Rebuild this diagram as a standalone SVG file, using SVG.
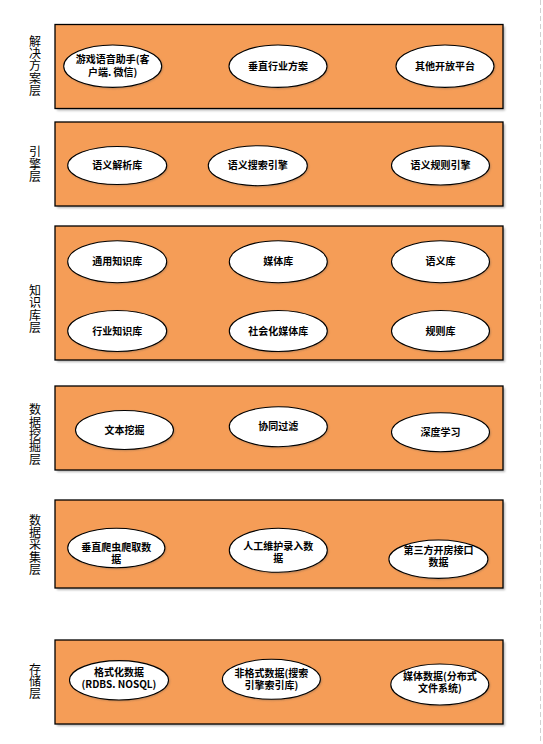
<svg xmlns="http://www.w3.org/2000/svg" width="543" height="744" viewBox="0 0 543 744">
<style>
.layer{fill:#F59D57;stroke:#000;stroke-width:1.3}
.shadow{fill:#7a7a7a;opacity:0.55}
.node{fill:#fff;stroke:#000;stroke-width:1.1}
.nshadow{fill:#555;opacity:0.45}
.t{font-family:"Noto Sans CJK SC","Liberation Sans",sans-serif;font-size:10px;font-weight:bold;fill:#000;text-anchor:middle}
.lbl{font-family:"Noto Sans CJK SC","Liberation Sans",sans-serif;font-size:12px;font-weight:normal;fill:#000;text-anchor:middle;writing-mode:vertical-rl;letter-spacing:0.3px}
</style>
<defs>
<filter id="blur" x="-10%" y="-10%" width="120%" height="130%"><feGaussianBlur stdDeviation="0.8"/></filter>
</defs>
<rect width="543" height="744" fill="#fff"/>
<line x1="540.5" y1="0" x2="540.5" y2="744" stroke="#d0d0d0" stroke-width="1" stroke-dasharray="5,3"/>

<!-- Layer 1 -->
<g id="layer-solution">
<rect class="shadow" x="57" y="26.5" width="448" height="84" filter="url(#blur)"/>
<rect class="layer" x="55" y="24.5" width="448" height="84"/>
<text class="lbl" x="35" y="66">解决方案层</text>
</g>
<g id="n-game">
<ellipse class="nshadow" cx="113.7" cy="67.2" rx="49" ry="21.2" filter="url(#blur)"/>
<ellipse class="node" cx="112.7" cy="66.2" rx="49" ry="21.2"/>
<text class="t"><tspan x="112.7" y="63.3">游戏语音助手(客</tspan><tspan x="112.7" y="75.5">户端. 微信)</tspan></text>
</g>
<g id="n-vertical">
<ellipse class="nshadow" cx="279" cy="67.2" rx="49" ry="21.2" filter="url(#blur)"/>
<ellipse class="node" cx="278" cy="66.2" rx="49" ry="21.2"/>
<text class="t" x="278" y="69.6">垂直行业方案</text>
</g>
<g id="n-other">
<ellipse class="nshadow" cx="446" cy="67.2" rx="49" ry="21.2" filter="url(#blur)"/>
<ellipse class="node" cx="445" cy="66.2" rx="49" ry="21.2"/>
<text class="t" x="445" y="69.6">其他开放平台</text>
</g>

<!-- Layer 2 -->
<g id="layer-engine">
<rect class="shadow" x="57" y="124" width="448" height="84" filter="url(#blur)"/>
<rect class="layer" x="55" y="122" width="448" height="84"/>
<text class="lbl" x="35" y="164.2">引擎层</text>
</g>
<g id="n-parse">
<ellipse class="nshadow" cx="118.2" cy="166.5" rx="49.5" ry="19" filter="url(#blur)"/>
<ellipse class="node" cx="117.2" cy="165.5" rx="49.5" ry="19"/>
<text class="t" x="117.2" y="169">语义解析库</text>
</g>
<g id="n-search">
<ellipse class="nshadow" cx="258.8" cy="166.7" rx="49.5" ry="20" filter="url(#blur)"/>
<ellipse class="node" cx="257.8" cy="165.7" rx="49.5" ry="20"/>
<text class="t" x="257.8" y="169">语义搜索引擎</text>
</g>
<g id="n-rule-engine">
<ellipse class="nshadow" cx="441.5" cy="166.5" rx="49" ry="19.5" filter="url(#blur)"/>
<ellipse class="node" cx="440.5" cy="165.5" rx="49" ry="19.5"/>
<text class="t" x="440.5" y="169">语义规则引擎</text>
</g>

<!-- Layer 3 -->
<g id="layer-knowledge">
<rect class="shadow" x="57" y="228" width="448" height="134" filter="url(#blur)"/>
<rect class="layer" x="55" y="226" width="448" height="134"/>
<text class="lbl" x="35" y="309">知识库层</text>
</g>
<g id="n-general">
<ellipse class="nshadow" cx="118.2" cy="262.7" rx="49.5" ry="21" filter="url(#blur)"/>
<ellipse class="node" cx="117.2" cy="261.7" rx="49.5" ry="21"/>
<text class="t" x="117.2" y="265.2">通用知识库</text>
</g>
<g id="n-media">
<ellipse class="nshadow" cx="279.3" cy="262.7" rx="49" ry="21" filter="url(#blur)"/>
<ellipse class="node" cx="278.3" cy="261.7" rx="49" ry="21"/>
<text class="t" x="278.3" y="265.2">媒体库</text>
</g>
<g id="n-semantic">
<ellipse class="nshadow" cx="441.5" cy="262.7" rx="49" ry="21" filter="url(#blur)"/>
<ellipse class="node" cx="440.5" cy="261.7" rx="49" ry="21"/>
<text class="t" x="440.5" y="265.2">语义库</text>
</g>
<g id="n-industry">
<ellipse class="nshadow" cx="118.2" cy="332" rx="49.5" ry="20.5" filter="url(#blur)"/>
<ellipse class="node" cx="117.2" cy="331" rx="49.5" ry="20.5"/>
<text class="t" x="117.2" y="334.5">行业知识库</text>
</g>
<g id="n-social">
<ellipse class="nshadow" cx="279.3" cy="332" rx="49" ry="20.5" filter="url(#blur)"/>
<ellipse class="node" cx="278.3" cy="331" rx="49" ry="20.5"/>
<text class="t" x="278.3" y="334.5">社会化媒体库</text>
</g>
<g id="n-rules">
<ellipse class="nshadow" cx="441.5" cy="332" rx="49" ry="20.5" filter="url(#blur)"/>
<ellipse class="node" cx="440.5" cy="331" rx="49" ry="20.5"/>
<text class="t" x="440.5" y="334.5">规则库</text>
</g>

<!-- Layer 4 -->
<g id="layer-mining">
<rect class="shadow" x="57" y="388" width="448" height="84" filter="url(#blur)"/>
<rect class="layer" x="55" y="386" width="448" height="84"/>
<text class="lbl" x="35" y="434.5">数据挖掘层</text>
</g>
<g id="n-textmining">
<ellipse class="nshadow" cx="125.5" cy="431" rx="49" ry="19.5" filter="url(#blur)"/>
<ellipse class="node" cx="124.5" cy="430" rx="49" ry="19.5"/>
<text class="t" x="124.5" y="433.5">文本挖掘</text>
</g>
<g id="n-cf">
<ellipse class="nshadow" cx="279.3" cy="427.7" rx="49" ry="20" filter="url(#blur)"/>
<ellipse class="node" cx="278.3" cy="426.7" rx="49" ry="20"/>
<text class="t" x="278.3" y="430.2">协同过滤</text>
</g>
<g id="n-dl">
<ellipse class="nshadow" cx="441.5" cy="433.2" rx="49" ry="19.5" filter="url(#blur)"/>
<ellipse class="node" cx="440.5" cy="432.2" rx="49" ry="19.5"/>
<text class="t" x="440.5" y="435.7">深度学习</text>
</g>

<!-- Layer 5 -->
<g id="layer-collect">
<rect class="shadow" x="57" y="502" width="448" height="88" filter="url(#blur)"/>
<rect class="layer" x="55" y="500" width="448" height="88"/>
<text class="lbl" x="35" y="545">数据采集层</text>
</g>
<g id="n-crawler">
<ellipse class="nshadow" cx="117.3" cy="549" rx="48.6" ry="19.7" filter="url(#blur)"/>
<ellipse class="node" cx="116.3" cy="548" rx="48.6" ry="19.7"/>
<text class="t"><tspan x="116.3" y="551.3">垂直爬虫爬取数</tspan><tspan x="116.3" y="563.3">据</tspan></text>
</g>
<g id="n-manual">
<ellipse class="nshadow" cx="279.3" cy="551.3" rx="49" ry="22" filter="url(#blur)"/>
<ellipse class="node" cx="278.3" cy="550.3" rx="49" ry="22"/>
<text class="t"><tspan x="278.3" y="550">人工维护录入数</tspan><tspan x="278.3" y="562">据</tspan></text>
</g>
<g id="n-thirdparty">
<ellipse class="nshadow" cx="439.4" cy="560.2" rx="49.5" ry="19.2" filter="url(#blur)"/>
<ellipse class="node" cx="438.4" cy="559.2" rx="49.5" ry="19.2"/>
<text class="t"><tspan x="438.4" y="553.8">第三方开房接口</tspan><tspan x="438.4" y="566">数据</tspan></text>
</g>

<!-- Layer 6 -->
<g id="layer-storage">
<rect class="shadow" x="57" y="642" width="448" height="84" filter="url(#blur)"/>
<rect class="layer" x="55" y="640" width="448" height="84"/>
<text class="lbl" x="35" y="681.5">存储层</text>
</g>
<g id="n-structured">
<ellipse class="nshadow" cx="120" cy="681.3" rx="49.5" ry="19.7" filter="url(#blur)"/>
<ellipse class="node" cx="119" cy="680.3" rx="49.5" ry="19.7"/>
<text class="t"><tspan x="119" y="676.4">格式化数据</tspan><tspan x="119" y="688.4">(RDBS. NOSQL)</tspan></text>
</g>
<g id="n-unstructured">
<ellipse class="nshadow" cx="272.4" cy="680.3" rx="49" ry="20" filter="url(#blur)"/>
<ellipse class="node" cx="271.4" cy="679.3" rx="49" ry="20"/>
<text class="t"><tspan x="271.4" y="676.8">非格式数据(搜索</tspan><tspan x="271.4" y="688.8">引擎索引库)</tspan></text>
</g>
<g id="n-mediadata">
<ellipse class="nshadow" cx="440.8" cy="685.5" rx="49" ry="20.5" filter="url(#blur)"/>
<ellipse class="node" cx="439.8" cy="684.5" rx="49" ry="20.5"/>
<text class="t"><tspan x="439.8" y="680">媒体数据(分布式</tspan><tspan x="439.8" y="692">文件系统)</tspan></text>
</g>

<g id="connectors"/>
</svg>
